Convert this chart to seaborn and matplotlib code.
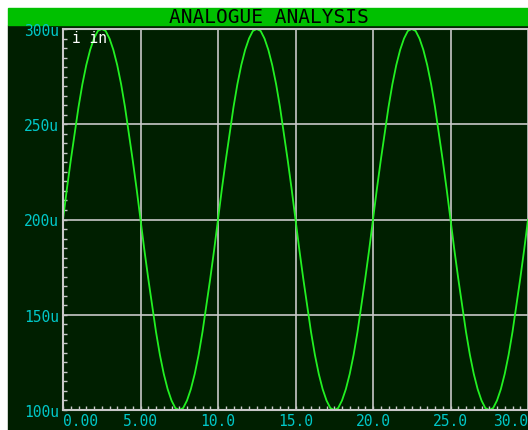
import numpy as np
import pandas as pd
import matplotlib
matplotlib.use("Agg")
import matplotlib.pyplot as plt
from matplotlib.patches import Rectangle
from matplotlib.ticker import MultipleLocator
import seaborn as sns

# time axis (ms), 0 to 30 in steps of 0.25
t = [0.0, 0.25, 0.5, 0.75, 1.0, 1.25, 1.5, 1.75, 2.0, 2.25,
     2.5, 2.75, 3.0, 3.25, 3.5, 3.75, 4.0, 4.25, 4.5, 4.75,
     5.0, 5.25, 5.5, 5.75, 6.0, 6.25, 6.5, 6.75, 7.0, 7.25,
     7.5, 7.75, 8.0, 8.25, 8.5, 8.75, 9.0, 9.25, 9.5, 9.75,
     10.0, 10.25, 10.5, 10.75, 11.0, 11.25, 11.5, 11.75, 12.0, 12.25,
     12.5, 12.75, 13.0, 13.25, 13.5, 13.75, 14.0, 14.25, 14.5, 14.75,
     15.0, 15.25, 15.5, 15.75, 16.0, 16.25, 16.5, 16.75, 17.0, 17.25,
     17.5, 17.75, 18.0, 18.25, 18.5, 18.75, 19.0, 19.25, 19.5, 19.75,
     20.0, 20.25, 20.5, 20.75, 21.0, 21.25, 21.5, 21.75, 22.0, 22.25,
     22.5, 22.75, 23.0, 23.25, 23.5, 23.75, 24.0, 24.25, 24.5, 24.75,
     25.0, 25.25, 25.5, 25.75, 26.0, 26.25, 26.5, 26.75, 27.0, 27.25,
     27.5, 27.75, 28.0, 28.25, 28.5, 28.75, 29.0, 29.25, 29.5, 29.75,
     30.0]
# input current (uA)
i_in = [200, 216, 231, 245, 259, 271, 281, 289, 295, 299,
        300, 299, 295, 289, 281, 271, 259, 245, 231, 216,
        200, 184, 169, 155, 141, 129, 119, 111, 105, 101,
        100, 101, 105, 111, 119, 129, 141, 155, 169, 184,
        200, 216, 231, 245, 259, 271, 281, 289, 295, 299,
        300, 299, 295, 289, 281, 271, 259, 245, 231, 216,
        200, 184, 169, 155, 141, 129, 119, 111, 105, 101,
        100, 101, 105, 111, 119, 129, 141, 155, 169, 184,
        200, 216, 231, 245, 259, 271, 281, 289, 295, 299,
        300, 299, 295, 289, 281, 271, 259, 245, 231, 216,
        200, 184, 169, 155, 141, 129, 119, 111, 105, 101,
        100, 101, 105, 111, 119, 129, 141, 155, 169, 184,
        200]

x_ticks = [0, 5, 10, 15, 20, 25, 30]
x_labels = ["0.00", "5.00", "10.0", "15.0", "20.0", "25.0", "30.0"]
y_ticks = [100, 150, 200, 250, 300]
y_labels = ["100u", "150u", "200u", "250u", "300u"]

df = pd.DataFrame({"t": t, "i": i_in})

sns.set_style("dark")
plt.rcParams["font.family"] = ["DejaVu Sans Mono", "DejaVu Sans"]

BG = "#001f00"
BAR = "#00c000"
GRID = "#c8c8c8"
CYAN = "#00c8c8"

fig = plt.figure(figsize=(5.28, 4.31), dpi=100)
fig.patch.set_facecolor("white")
W, H = 528.0, 431.0
fig.patches.append(Rectangle((8 / W, 0), 1 - 8 / W, (H - 26) / H,
                             transform=fig.transFigure, color=BG, zorder=-5))
fig.patches.append(Rectangle((8 / W, (H - 26) / H), 1 - 8 / W, 17 / H,
                             transform=fig.transFigure, color=BAR, zorder=-5))
fig.text(269 / W, (H - 17.5) / H, "ANALOGUE ANALYSIS", color="black",
         fontsize=14, ha="center", va="center", fontweight="light")

ax = fig.add_axes([63 / W, 20 / H, 1 - 63 / W, 381 / H])
ax.set_facecolor(BG)
sns.lineplot(data=df, x="t", y="i", ax=ax, color="#22f022", linewidth=1.3)

ax.set_xlim(0, 30)
ax.set_ylim(100, 300)
ax.set_xlabel("")
ax.set_ylabel("")
ax.set_xticks(x_ticks)
ax.set_xticklabels(x_labels)
ax.set_yticks(y_ticks)
ax.set_yticklabels(y_labels)
ax.xaxis.set_minor_locator(MultipleLocator(0.5))
ax.yaxis.set_minor_locator(MultipleLocator(5))
ax.tick_params(axis="both", which="both", direction="in", colors=GRID,
               labelcolor=CYAN, labelsize=10.5, bottom=True, left=True)
ax.tick_params(which="major", length=3, width=1)
ax.tick_params(which="minor", length=3, width=1)
ax.tick_params(axis="y", pad=3)
ax.tick_params(axis="x", pad=2)
labs = ax.get_xticklabels()
labs[0].set_ha("left")
labs[-1].set_ha("right")

ax.grid(True, which="major", color=GRID, linewidth=1.2)
ax.grid(False, which="minor")
for side in ["left", "bottom", "top"]:
    ax.spines[side].set_visible(True)
    ax.spines[side].set_color(GRID)
    ax.spines[side].set_linewidth(1.5)
ax.spines["right"].set_visible(False)

ax.text(0.6, 299.5, "i in", color="white", fontsize=10.5, va="top", ha="left")

fig.savefig("out.png", dpi=100, facecolor=fig.get_facecolor())
